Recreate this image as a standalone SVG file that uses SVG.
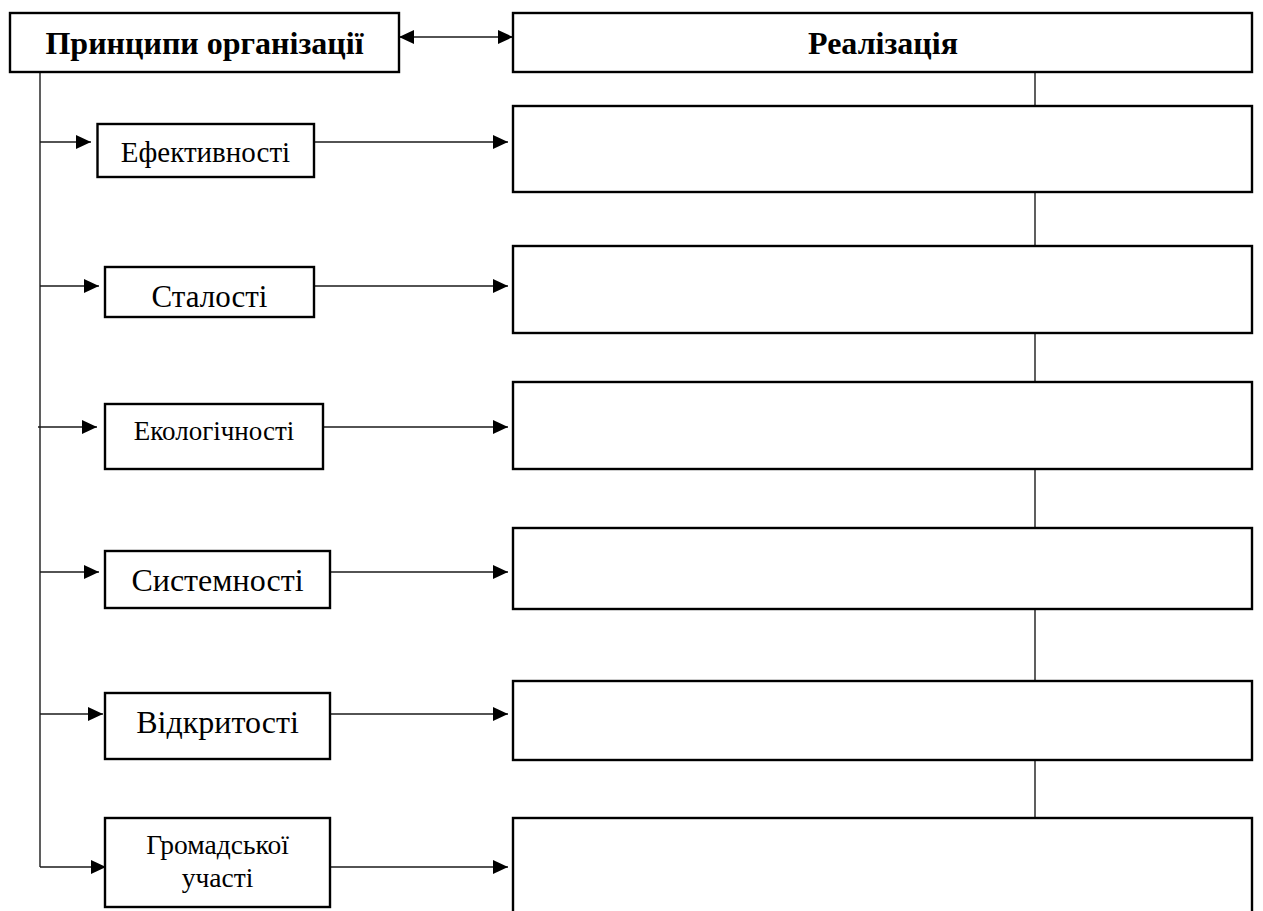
<svg xmlns="http://www.w3.org/2000/svg" width="1263" height="911" viewBox="0 0 1263 911">
<style>
.box{fill:#fff;stroke:#000;stroke-width:2.4}
.c{fill:none;stroke:#1a1a1a;stroke-width:1.4}
.t{font-family:"Liberation Serif","Times New Roman",serif;fill:#000;text-anchor:middle}
.b{font-weight:bold}
</style>
<defs>
<marker id="ah" markerUnits="userSpaceOnUse" markerWidth="16" markerHeight="14" refX="15" refY="7" orient="auto-start-reverse">
<path d="M0,0 L15,7 L0,14 z" fill="#000"/>
</marker>
</defs>
<rect width="1263" height="911" fill="#fff"/>
<g id="connectors">
<line class="c" x1="399" y1="37" x2="513" y2="37" marker-start="url(#ah)" marker-end="url(#ah)"/>
<line class="c" x1="40" y1="72" x2="40" y2="867"/>
<line class="c" x1="40" y1="142" x2="91" y2="142" marker-end="url(#ah)"/>
<line class="c" x1="40" y1="286" x2="99" y2="286" marker-end="url(#ah)"/>
<line class="c" x1="38" y1="427" x2="97" y2="427" marker-end="url(#ah)"/>
<line class="c" x1="40" y1="572" x2="99" y2="572" marker-end="url(#ah)"/>
<line class="c" x1="40" y1="714" x2="103" y2="714" marker-end="url(#ah)"/>
<line class="c" x1="40" y1="867" x2="106" y2="867" marker-end="url(#ah)"/>
<line class="c" x1="314" y1="142" x2="508" y2="142" marker-end="url(#ah)"/>
<line class="c" x1="314" y1="286" x2="508" y2="286" marker-end="url(#ah)"/>
<line class="c" x1="323" y1="427" x2="508" y2="427" marker-end="url(#ah)"/>
<line class="c" x1="330" y1="572" x2="508" y2="572" marker-end="url(#ah)"/>
<line class="c" x1="330" y1="714" x2="508" y2="714" marker-end="url(#ah)"/>
<line class="c" x1="330" y1="867" x2="508" y2="867" marker-end="url(#ah)"/>
<line class="c" x1="1035" y1="72" x2="1035" y2="106"/>
<line class="c" x1="1035" y1="192" x2="1035" y2="246"/>
<line class="c" x1="1035" y1="333" x2="1035" y2="382"/>
<line class="c" x1="1035" y1="469" x2="1035" y2="528"/>
<line class="c" x1="1035" y1="609" x2="1035" y2="681"/>
<line class="c" x1="1035" y1="760" x2="1035" y2="818"/>
</g>
<g id="principles">
<rect class="box" x="10" y="13" width="389" height="59"/>
<text class="t b" x="204.5" y="54" font-size="32">Принципи організації</text>
</g>
<g id="realization">
<rect class="box" x="513" y="13" width="739" height="59"/>
<text class="t b" x="883" y="54" font-size="32">Реалізація</text>
</g>
<g id="n-efekt">
<rect class="box" x="97.5" y="124" width="216.5" height="53"/>
<text class="t" x="205.5" y="162" font-size="29">Ефективності</text>
</g>
<g id="n-stal">
<rect class="box" x="105" y="267" width="209" height="50"/>
<text class="t" x="209.5" y="307" font-size="31">Сталості</text>
</g>
<g id="n-ekol">
<rect class="box" x="105" y="404" width="218" height="65"/>
<text class="t" x="214" y="440" font-size="27">Екологічності</text>
</g>
<g id="n-syst">
<rect class="box" x="105" y="551" width="225" height="57"/>
<text class="t" x="217.5" y="591" font-size="32">Системності</text>
</g>
<g id="n-vidk">
<rect class="box" x="105" y="693" width="225" height="66"/>
<text class="t" x="217.5" y="733" font-size="32">Відкритості</text>
</g>
<g id="n-hrom">
<rect class="box" x="105" y="818" width="225" height="89"/>
<text class="t" x="217.5" y="854" font-size="27.5">Громадської</text>
<text class="t" x="217.5" y="887" font-size="27.5">участі</text>
</g>
<g id="r1"><rect class="box" x="513" y="106" width="739" height="86"/></g>
<g id="r2"><rect class="box" x="513" y="246" width="739" height="87"/></g>
<g id="r3"><rect class="box" x="513" y="382" width="739" height="87"/></g>
<g id="r4"><rect class="box" x="513" y="528" width="739" height="81"/></g>
<g id="r5"><rect class="box" x="513" y="681" width="739" height="79"/></g>
<g id="r6"><rect class="box" x="513" y="818" width="739" height="110"/></g>
</svg>
